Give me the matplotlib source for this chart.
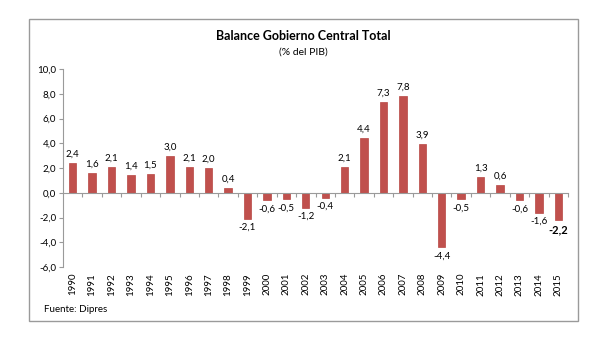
import matplotlib.pyplot as plt
import matplotlib.transforms as mtransforms
from matplotlib.patches import Rectangle

years = list(range(1990, 2016))
balance = [2.4, 1.6, 2.1, 1.4, 1.5, 3.0, 2.1, 2.0, 0.4, -2.1, -0.6, -0.5, -1.2,
           -0.4, 2.1, 4.4, 7.3, 7.8, 3.9, -4.4, -0.5, 1.3, 0.6, -0.6, -1.6, -2.2]
yticks = [-6, -4, -2, 0, 2, 4, 6, 8, 10]

plt.rcParams['font.family'] = ['Lato', 'DejaVu Sans']

fig = plt.figure(figsize=(6.08, 3.40), dpi=100)
# grey frame round the whole chart
fig.patches.append(Rectangle((29 / 608, 1 - 321 / 340), 549 / 608, 302 / 340,
                             transform=fig.transFigure, fill=False,
                             edgecolor='#9a9a9a', linewidth=1.0))

ax = fig.add_axes([63 / 608, 1 - 267 / 340, 505 / 608, 198 / 340])
x = list(range(len(years)))
ax.bar(x, balance, width=0.38, color='#c0504d', edgecolor='#b84643', linewidth=0.5)

ax.set_xlim(-0.5, len(years) - 0.5)
ax.set_ylim(-6, 10)
ax.set_yticks(yticks)
ax.set_yticklabels([f"{v:.1f}".replace('.', ',') for v in yticks], fontsize=7)
ax.tick_params(axis='y', length=3, color='#9a9a9a', pad=2)

for s in ['top', 'right']:
    ax.spines[s].set_visible(False)
ax.spines['left'].set_color('#9a9a9a')
ax.spines['bottom'].set_position(('data', 0))
ax.spines['bottom'].set_color('#9a9a9a')
ax.set_xticks([i + 0.5 for i in x])
ax.set_xticklabels([])
ax.tick_params(axis='x', length=3, color='#9a9a9a', direction='out')

trans = mtransforms.blended_transform_factory(ax.transData, ax.transAxes)
for i, yr in zip(x, years):
    ax.text(i, -0.03, str(yr), rotation=90, ha='center', va='top',
            fontsize=7, transform=trans)

for i, v in zip(x, balance):
    lab = f"{v:.1f}".replace('.', ',')
    if v >= 0:
        ax.text(i, v + 0.35, lab, ha='center', va='bottom', fontsize=7)
    else:
        bold = i == len(x) - 1
        ax.text(i, v - 0.35, lab, ha='center', va='top',
                fontsize=8 if bold else 7, fontweight='bold' if bold else 'normal')

fig.text(303 / 608, 1 - 36 / 340, 'Balance Gobierno Central Total', ha='center',
         va='center', fontsize=9, fontweight='bold')
fig.text(303 / 608, 1 - 52 / 340, '(% del PIB)', ha='center', va='center', fontsize=7.5)
fig.text(44 / 608, 1 - 310 / 340, 'Fuente: Dipres', ha='left', va='center', fontsize=7)

fig.savefig('out.png', dpi=100)
